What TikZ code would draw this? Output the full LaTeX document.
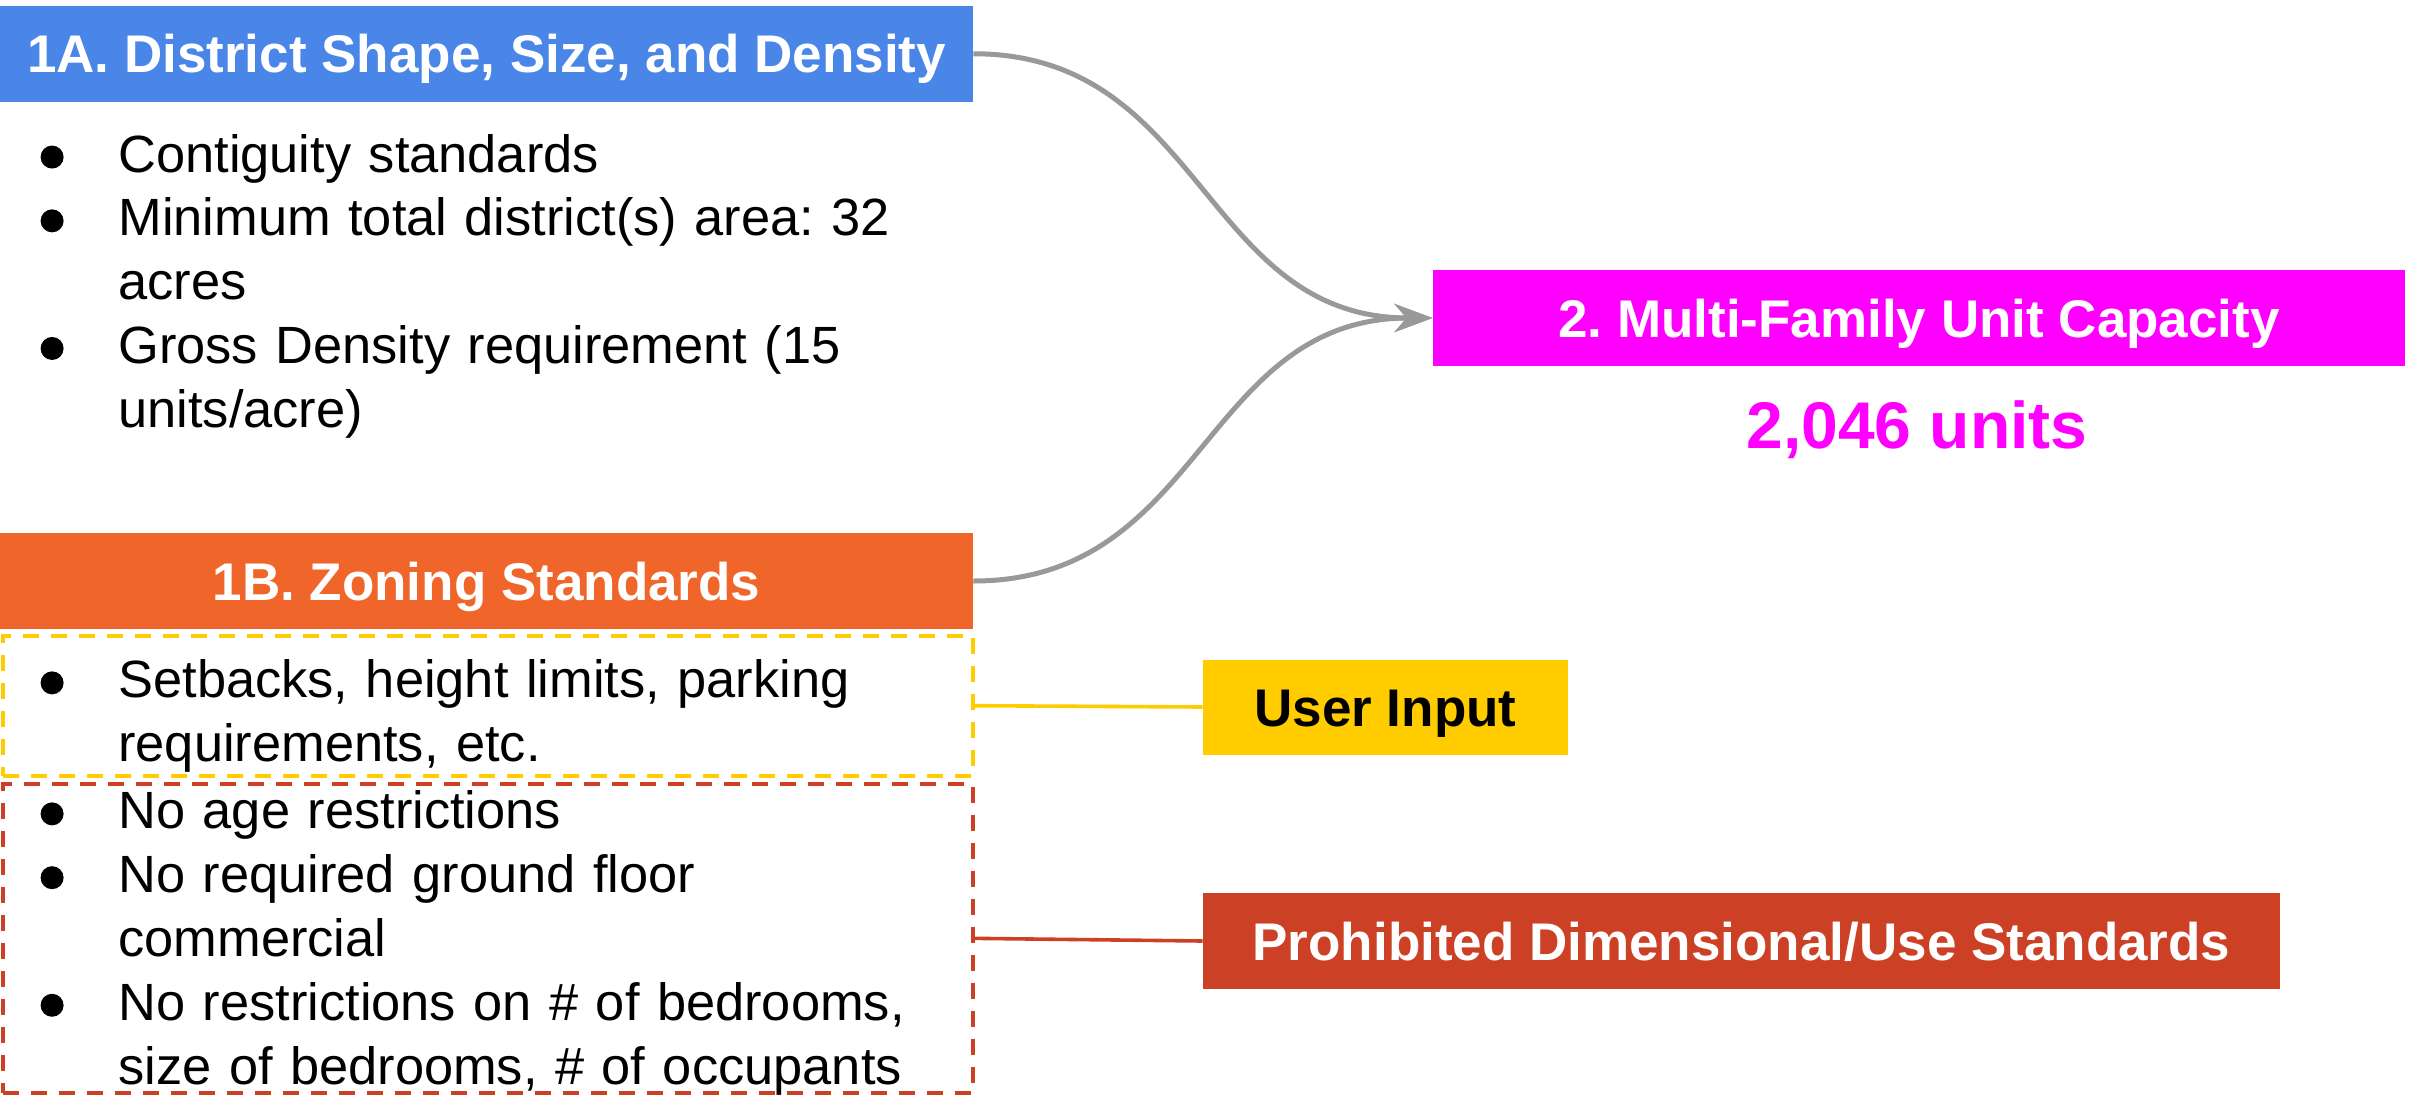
\documentclass[tikz,border=0pt]{standalone}
\usepackage{fontspec}
\setmainfont{Liberation Sans}
\usetikzlibrary{arrows.meta}
\frenchspacing

\definecolor{hdblue}{HTML}{4A86E8}
\definecolor{hdorange}{HTML}{F0652A}
\definecolor{hdmagenta}{HTML}{FF00FF}
\definecolor{hdyellow}{HTML}{FFCC00}
\definecolor{hdred}{HTML}{CC4125}
\definecolor{linkgray}{HTML}{999999}

% text sizes
\newcommand\bodyfont{\fontsize{26.2}{31.9}\selectfont}
\newcommand\headfont{\fontsize{26.5}{31.9}\selectfont\bfseries}
% one bulleted line, and a wrapped continuation line
\newcommand\bitem[1]{\noindent\strut\makebox[59pt][l]{\hspace{20.1pt}\raisebox{1.75pt}{\tikz\fill[black] (0,0) circle[radius=5.75pt];}}#1\par}
\newcommand\bcont[1]{\noindent\strut\hspace*{59pt}#1\par}

\tikzset{
  head/.style={rectangle, inner sep=0pt, text height=19pt, text depth=0pt,
    font=\headfont, text=white},
  bullets/.style={inner sep=0pt, text width=486pt, align=left, font=\bodyfont,
    anchor=north west},
  dbox/.style={rectangle, draw, line width=2pt, dash pattern=on 8pt off 6pt,
    inner sep=0pt, minimum width=485.15pt},
  link/.style={draw=linkgray, line width=2.5pt,
    -{Stealth[length=19pt, width=14pt, inset=6pt]}},
  tag/.style={line width=1.8pt},
}

\begin{document}
\begin{tikzpicture}[x=0.5pt, y=-0.5pt]
\useasboundingbox (0,0) rectangle (2412,1098);

% left column: headers
\node[head, fill=hdblue, minimum width=486.5pt, minimum height=47.75pt]
  (hA) at (486.5,53.75) {1A. District Shape, Size, and Density};
\node[head, fill=hdorange, minimum width=486.5pt, minimum height=48pt]
  (hB) at (486.5,581) {1B. Zoning Standards};

% 1A bullet list
\node[bullets] (listA) at (0,127) {%
  \bitem{Contiguity standards}%
  \bitem{Minimum total district(s) area: 32}%
  \bcont{acres}%
  \bitem{Gross Density requirement (15}%
  \bcont{units/acre)}};

% 1B groups
\node[dbox, draw=hdyellow, minimum height=70pt] (yBox) at (487.85,705.7) {};
\node[dbox, draw=hdred, minimum height=154.35pt] (rBox) at (487.85,938.35) {};

\node[bullets] (listY) at (0,652.8) {%
  \bitem{Setbacks, height limits, parking}%
  \bcont{requirements, etc.}};
\node[bullets] (listR) at (0,783.8) {%
  \bitem{No age restrictions}%
  \bitem{No required ground floor}%
  \bcont{commercial}%
  \bitem{No restrictions on \# of bedrooms,}%
  \bcont{size of bedrooms, \# of occupants}};

% right column
\node[head, fill=hdmagenta, minimum width=486pt, minimum height=48pt]
  (cap) at (1919,318) {2. Multi-Family Unit Capacity};
\node[inner sep=0pt, text height=23.6pt, text depth=0pt, text=hdmagenta,
  font=\fontsize{33}{40}\selectfont\bfseries] (units) at (1917,424.5) {2,046 units};

\node[head, fill=hdyellow, text=black, minimum width=182.5pt, minimum height=47.5pt]
  (ui) at (1385.5,707) {User Input};
\node[head, fill=hdred, minimum width=538.5pt, minimum height=48pt]
  (pro) at (1741.5,941) {Prohibited Dimensional/Use Standards};

% connectors
\draw[link] (hA.east) .. controls +(230,0) and +(-230,0) .. (cap.west);
\draw[link] (hB.east) .. controls +(230,0) and +(-230,0) .. (cap.west);
\draw[tag, hdyellow] (yBox.east) -- (ui.west);
\draw[tag, hdred] (rBox.east) -- (pro.west);
\end{tikzpicture}
\end{document}
